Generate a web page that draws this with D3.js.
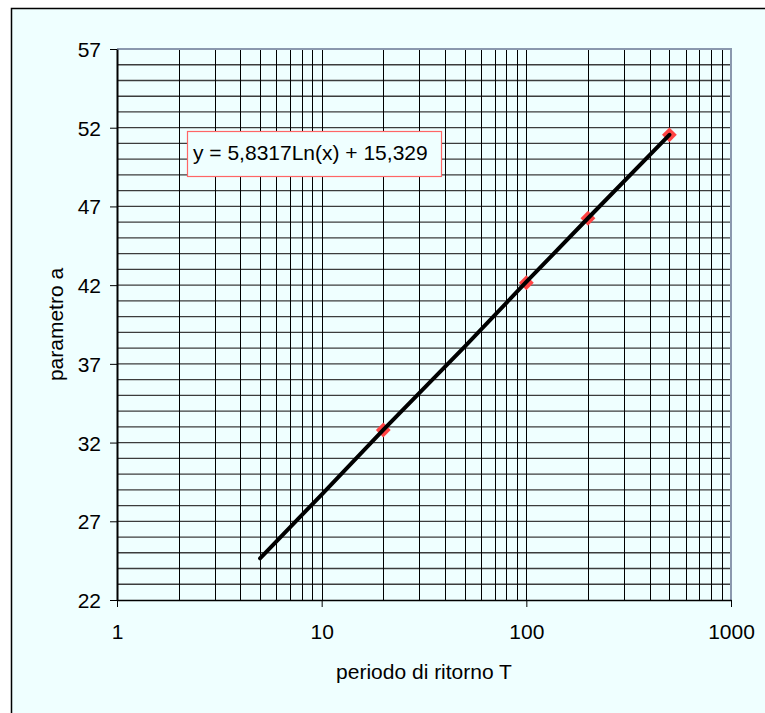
<!DOCTYPE html>
<html>
<head>
<meta charset="utf-8">
<script src="https://cdn.jsdelivr.net/npm/d3@7"></script>
<style>
body { margin: 0; background: #fff; }
text { font-family: "Liberation Sans", Arial, sans-serif; fill: #000; }
</style>
</head>
<body>
<script>
"use strict";
// return period T and parameter a (red markers)
const periodT = [20, 100, 200, 500];
const paramA = [32.8, 42.15, 46.25, 51.55];
// trend line points
const trendT = [5, 10, 20, 50, 100, 200, 500];
const trendA = [24.65, 28.7, 32.8, 38.1, 42.2, 46.25, 51.55];
const yTicks = [22, 27, 32, 37, 42, 47, 52, 57];
const xTicks = [1, 10, 100, 1000];
const equation = "y = 5,8317Ln(x) + 15,329";

const size = {"width": 765, "height": 713};
const plot = {"left": 117, "right": 731, "top": 49, "bottom": 600};

const svg = d3.select("body").append("svg").attr("width", size.width).attr("height", size.height);
svg.append("rect").attr("x", 11.5).attr("y", 8.5).attr("width", 800).attr("height", 800)
	.attr("fill", "#efffff").attr("stroke", "#000").attr("stroke-width", 1.5);

const xScale = d3.scaleLog().domain([1, 1000]).range([plot.left, plot.right]);
const yScale = d3.scaleLinear().domain([22, 57]).range([plot.bottom, plot.top]);

// horizontal grid, one per unit
const hLines = d3.range(23, 57);
svg.append("g").selectAll("line").data(hLines).enter().append("line")
	.attr("x1", plot.left).attr("x2", plot.right)
	.attr("y1", d => yScale(d)).attr("y2", d => yScale(d))
	.attr("stroke", "#3c3c3c").attr("stroke-width", 1.3);

// vertical grid on log steps
const vLines = [];
[1, 10, 100].forEach(dec => { for (let k = 2; k <= 10; k++) if (dec * k < 1000) vLines.push(dec * k); });
svg.append("g").selectAll("line").data(vLines).enter().append("line")
	.attr("x1", d => Math.round(xScale(d)) + 0.5).attr("x2", d => Math.round(xScale(d)) + 0.5)
	.attr("y1", plot.top).attr("y2", plot.bottom)
	.attr("stroke", "#000").attr("stroke-width", 1);

// plot frame top/right
svg.append("path")
	.attr("d", `M${plot.left},${plot.top}H${plot.right}V${plot.bottom}`)
	.attr("fill", "none").attr("stroke", "#8a98ae").attr("stroke-width", 2);

const xAxis = d3.axisBottom(xScale).tickValues(xTicks).tickFormat(d3.format("d")).tickSize(7).tickSizeOuter(0);
const gx = svg.append("g").attr("transform", "translate(0," + plot.bottom + ")").call(xAxis);
gx.select(".domain").attr("stroke", "#000").attr("stroke-width", 1.5);
gx.selectAll(".tick line").attr("stroke", "#000");
gx.selectAll(".tick text").attr("y", 0).attr("dy", 39).attr("font-size", 21)
	.style("font-family", "'Liberation Sans', Arial, sans-serif");

const yAxis = d3.axisLeft(yScale).tickValues(yTicks).tickFormat(d3.format("d")).tickSize(7).tickSizeOuter(0);
const gy = svg.append("g").attr("transform", "translate(" + plot.left + ",0)").call(yAxis);
gy.select(".domain").attr("stroke", "#000").attr("stroke-width", 2);
gy.selectAll(".tick line").attr("stroke", "#000");
gy.selectAll(".tick text").attr("x", -16).attr("dy", "0.36em").attr("font-size", 21)
	.style("font-family", "'Liberation Sans', Arial, sans-serif");

// markers: red squares turned 45 degrees
const markers = periodT.map((t, i) => ({t: t, a: paramA[i]}));
svg.append("g").selectAll("path").data(markers).enter().append("path")
	.attr("d", d3.symbol().type(d3.symbolSquare).size(110))
	.attr("transform", d => "translate(" + xScale(d.t) + "," + yScale(d.a) + ") rotate(45)")
	.attr("fill", "#ff4444");

// trend line
const trend = trendT.map((t, i) => ({t: t, a: trendA[i]}));
svg.append("path").datum(trend)
	.attr("d", d3.line().x(d => xScale(d.t)).y(d => yScale(d.a)))
	.attr("fill", "none").attr("stroke", "#000").attr("stroke-width", 4).attr("stroke-linecap", "round");

// equation label
svg.append("rect").attr("x", 187.5).attr("y", 131.5).attr("width", 254).attr("height", 45)
	.attr("fill", "#efffff").attr("stroke", "#ff6666").attr("stroke-width", 1.2);
svg.append("text").attr("x", 193).attr("y", 160).attr("font-size", 21).text(equation);

// axis titles
svg.append("text").attr("x", 424).attr("y", 679).attr("text-anchor", "middle").attr("font-size", 21)
	.text("periodo di ritorno T");
svg.append("text").attr("transform", "translate(63," + ((plot.top + plot.bottom) / 2) + ") rotate(-90)")
	.attr("text-anchor", "middle").attr("font-size", 21).text("parametro a");
</script>
</body>
</html>
